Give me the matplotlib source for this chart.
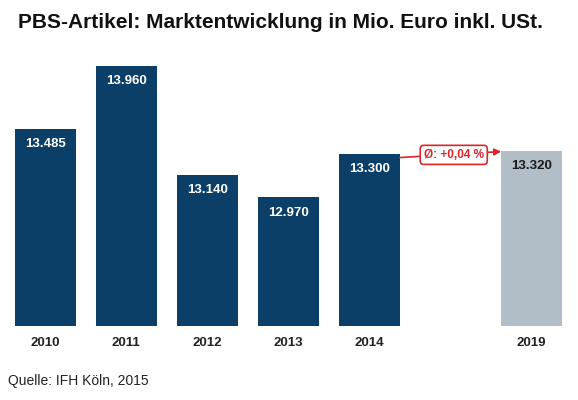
import matplotlib
matplotlib.use("Agg")
import matplotlib.pyplot as plt

# data
years = ["2010", "2011", "2012", "2013", "2014", "2019"]
slots = [0, 1, 2, 3, 4, 6]
values = [13485, 13960, 13140, 12970, 13300, 13320]
labels = ["13.485", "13.960", "13.140", "12.970", "13.300", "13.320"]
growth_label = "Ø: +0,04 %"

dark_blue = "#0b3f68"
grey_blue = "#b1bec8"
red = "#d9262b"

plt.rcParams["font.family"] = ["Liberation Sans", "DejaVu Sans"]

W, H = 578, 400
fig = plt.figure(figsize=(W / 100, H / 100), dpi=100)

# axes placed in pixel terms: bars from x=14.7 to 562, base at y=326, 2011 top at y=66
left, right = 14.7, 562.0
bottom_px, top_px = 326.0, 66.0
ax = fig.add_axes([left / W, (H - bottom_px) / H, (right - left) / W, (bottom_px - top_px) / H])

ymin = 12000
ax.set_xlim(-0.375, 6.375)
ax.set_ylim(ymin, max(values))

colors = [dark_blue] * 5 + [grey_blue]
bars = ax.bar(slots, [v - ymin for v in values], bottom=ymin, width=0.75, color=colors)

for x, v, lab, c in zip(slots, values, labels, colors):
    tc = "white" if c == dark_blue else "#1a1a1a"
    ax.text(x, v - 115, lab, ha="center", va="center", color=tc,
            fontsize=9.5, fontweight="bold")

ax.set_xticks(slots)
ax.set_xticklabels(years, fontsize=9.5, fontweight="bold", color="#222222")
ax.tick_params(axis="x", length=0, pad=8)
ax.set_yticks([])
for s in ax.spines.values():
    s.set_visible(False)

# growth annotation between 2014 and 2019
ax.annotate("", xy=(6 - 0.375, values[5] - 5), xytext=(4 + 0.375, values[4] - 30),
            arrowprops=dict(arrowstyle="-|>", color=red, lw=1.2, mutation_scale=10,
                            shrinkA=0, shrinkB=0))
ax.text(5.04, (values[4] + values[5]) / 2 - 20, growth_label, ha="center", va="center",
        color=red, fontsize=8.5, fontweight="bold",
        bbox=dict(boxstyle="round,pad=0.3,rounding_size=0.3", fc="white", ec=red, lw=1.2))

fig.text(18 / W, 1 - 23 / H, "PBS-Artikel: Marktentwicklung in Mio. Euro inkl. USt.",
         ha="left", va="center", fontsize=15, fontweight="bold", color="#111111")
fig.text(8 / W, 1 - 381 / H, "Quelle: IFH Köln, 2015", ha="left", va="center",
         fontsize=10, color="#222222")

fig.savefig("out.png", dpi=100)
